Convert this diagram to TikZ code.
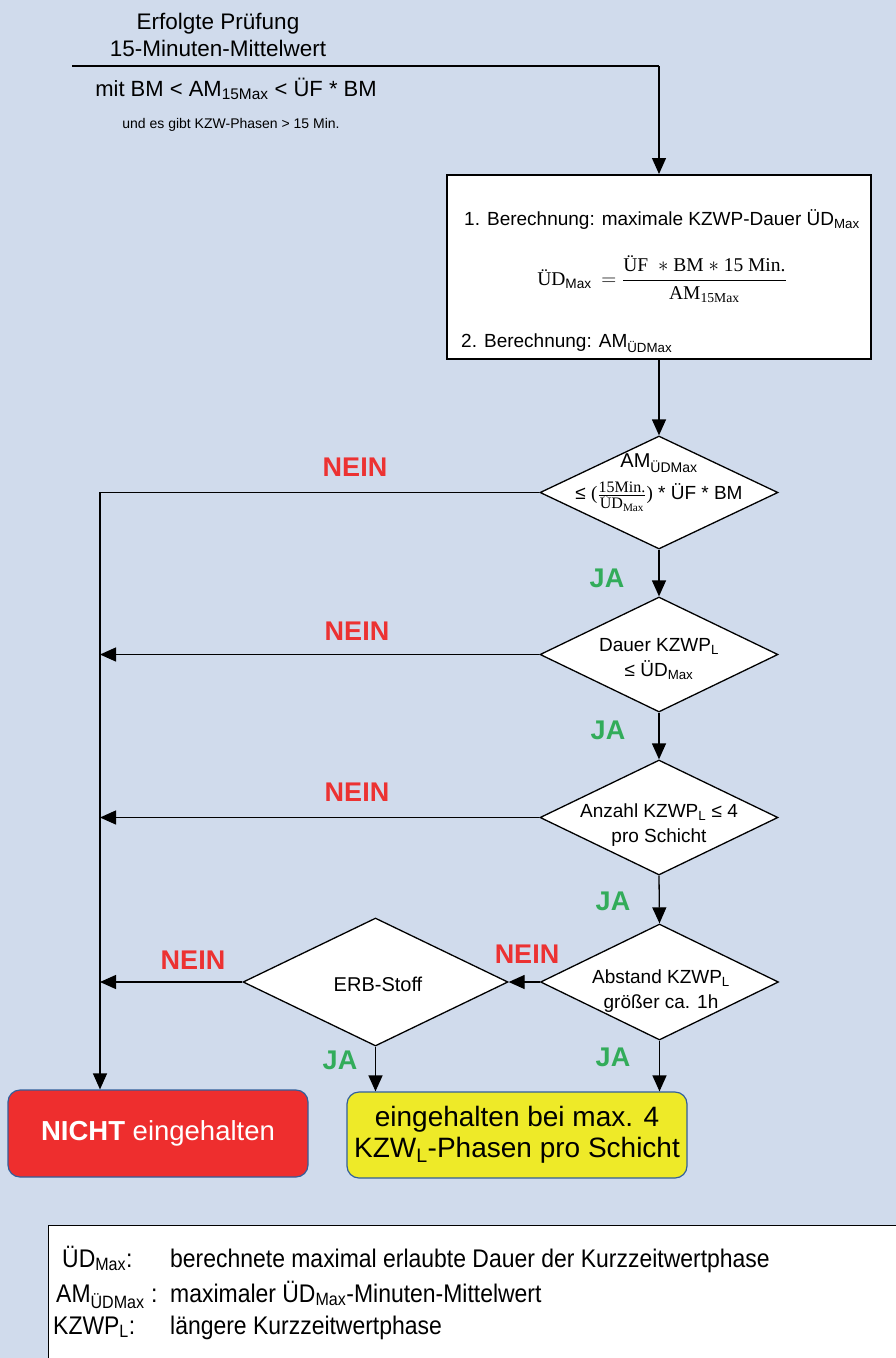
\documentclass[tikz,border=0pt]{standalone}
\usepackage{fontspec}
\setmainfont{Liberation Sans}
\newfontfamily\serifm{Liberation Serif}
\newfontfamily\narrowf[FakeStretch=0.9]{Liberation Sans}
\usetikzlibrary{arrows.meta,shapes.geometric}
\definecolor{bg}{RGB}{208,219,236}
\definecolor{neinred}{RGB}{236,50,50}
\definecolor{jagreen}{RGB}{50,172,90}
\definecolor{redbox}{RGB}{238,46,46}
\definecolor{yellowbox}{RGB}{238,234,40}
\definecolor{boxedge}{RGB}{50,95,155}
\newcommand{\sbs}[1]{\textsubscript{#1}}
\begin{document}
\begin{tikzpicture}[x=1pt,y=-1pt,
  txt/.style={inner sep=0pt},
  conn/.style={line width=1.3pt},
  arr/.style={conn,-{Triangle[length=16pt,width=14pt]}},
  dia/.style={diamond, draw, fill=white, line width=1.3pt, inner sep=0pt},
  dtext/.style={txt, font=\fontsize{19}{25}\selectfont, align=center},
  nein/.style={txt, text=neinred, font=\fontsize{27}{30}\selectfont\bfseries},
  ja/.style={txt, text=jagreen, font=\fontsize{27}{30}\selectfont\bfseries},
  endbox/.style={draw=boxedge, line width=1.2pt, rounded corners=12pt, inner sep=0pt},
  leg/.style={txt, anchor=base west, font=\fontsize{25.5}{30}\narrowf}
]
\useasboundingbox (0,0) rectangle (896,1358);
\fill[bg] (0,0) rectangle (896,1358);
\clip (0,0) rectangle (896,1358);

% heading
\node[txt, font=\fontsize{22.5}{27}\selectfont, align=center] (head) at (218,35) {Erfolgte Prüfung\\15-Minuten-Mittelwert};
\node[txt, anchor=base, font=\fontsize{22}{26}\selectfont] (cond) at (236,96) {mit BM < AM\sbs{15Max} < ÜF * BM};
\node[txt, font=\fontsize{14}{17}\selectfont] (cond2) at (231,125) {und es gibt KZW-Phasen > 15 Min.};
\coordinate (start) at (72,66);
\coordinate (turn) at (659,66);

% calculation box
\node[draw, fill=white, line width=2pt, minimum width=424pt, minimum height=184pt] (calc) at (659,267) {};
\node[txt, anchor=base west, font=\fontsize{19}{23}\selectfont] (c1) at (464,225) {1. Berechnung: maximale KZWP-Dauer ÜD\sbs{Max}};
\node[txt, font=\fontsize{19.5}{24}\serifm] (form) at (662,279) {ÜD\textsubscript{\normalfont Max}\ \ $=\displaystyle\frac{\hbox{ÜF\ \ $\ast$ BM $\ast$ 15 Min.}}{\hbox{AM\textsubscript{15Max}}}$};
\node[txt, anchor=base west, font=\fontsize{19}{23}\selectfont] (c2) at (461,347) {2. Berechnung: AM\sbs{ÜDMax}};

% decisions
\node[dia, minimum width=238pt, minimum height=113pt] (d1) at (659,492.5) {};
\node[dtext, font=\fontsize{20}{25}\selectfont] (d1a) at (659,463) {AM\sbs{ÜDMax}};
\node[dtext] (d1b) at (659,497) {≤ {\serifm(}$\frac{\hbox{\serifm\fontsize{16}{18}\selectfont 15Min.}}{\hbox{\serifm\fontsize{16}{18}\selectfont ÜD\textsubscript{Max}}}${\serifm)} * ÜF * BM};

\node[dia, minimum width=238pt, minimum height=115pt] (d2) at (659,654.5) {};
\node[dtext] (d2t) at (659,659) {Dauer KZWP\sbs{L}\\≤ ÜD\sbs{Max}};

\node[dia, minimum width=238pt, minimum height=115pt] (d3) at (659,817.5) {};
\node[dtext] (d3t) at (659,825) {Anzahl KZWP\sbs{L} ≤ 4\\pro Schicht};

\node[dia, minimum width=238pt, minimum height=116pt] (d4) at (659.5,982) {};
\node[dtext] (d4t) at (661,991) {Abstand KZWP\sbs{L}\\größer ca. 1h};

\node[dia, minimum width=265pt, minimum height=128pt] (erb) at (375.5,982) {};
\node[dtext, font=\fontsize{20}{25}\selectfont] (erbt) at (378,984) {ERB-Stoff};

% results
\node[endbox, fill=redbox, text=white, minimum width=300pt, minimum height=87pt,
      font=\fontsize{27.5}{30}\selectfont] (nicht) at (158,1133.5) {\textbf{NICHT} eingehalten};
\node[endbox, fill=yellowbox, minimum width=340pt, minimum height=86pt, align=center,
      font=\fontsize{28}{31}\selectfont] (yes) at (517,1135) {eingehalten bei max. 4\\KZW\sbs{L}-Phasen pro Schicht};

% connectors
\coordinate (lx) at (100,492.5);
\draw[conn] (start) -- (turn);
\draw[arr] (turn) -- (calc.north);
\draw[arr] (calc.south) -- (d1.north);
\draw[arr] (d1.south) -- (d2.north);
\draw[arr] (d2.south) -- (d3.north);
\draw[arr] (d3.south) -- (d4.north);
\draw[arr] (d1.west) -- (lx) -- (lx |- nicht.north);
\draw[arr] (d2.west) -- (lx |- d2.west);
\draw[arr] (d3.west) -- (lx |- d3.west);
\draw[arr] (d4.west) -- (erb.east);
\draw[arr] (erb.west) -- (lx |- erb.west);
\draw[arr] (erb.south) -- (erb.south |- yes.north);
\draw[arr] (d4.south) -- (d4.south |- yes.north);

% labels
\node[nein] (n1) at (355,467) {NEIN};
\node[nein] (n2) at (357,631) {NEIN};
\node[nein] (n3) at (357,792) {NEIN};
\node[nein] (n4) at (527,954) {NEIN};
\node[nein] (n5) at (193,960) {NEIN};
\node[ja] (j1) at (607,578) {JA};
\node[ja] (j2) at (608,730) {JA};
\node[ja] (j3) at (613,901) {JA};
\node[ja] (j4) at (340,1060) {JA};
\node[ja] (j5) at (613,1057) {JA};

% legend
\node[draw, fill=white, line width=1.2pt, anchor=north west, minimum width=880pt, minimum height=150pt] (legend) at (48,1225) {};
\node[leg] (l1a) at (62,1267) {ÜD\sbs{Max}:};
\node[leg] (l1b) at (170,1267) {berechnete maximal erlaubte Dauer der Kurzzeitwertphase};
\node[leg] (l2a) at (56,1302) {AM\sbs{ÜDMax} :};
\node[leg] (l2b) at (170,1302) {maximaler ÜD\sbs{Max}-Minuten-Mittelwert};
\node[leg] (l3a) at (53,1334) {KZWP\sbs{L}:};
\node[leg] (l3b) at (170,1334) {längere Kurzzeitwertphase};
\end{tikzpicture}
\end{document}
